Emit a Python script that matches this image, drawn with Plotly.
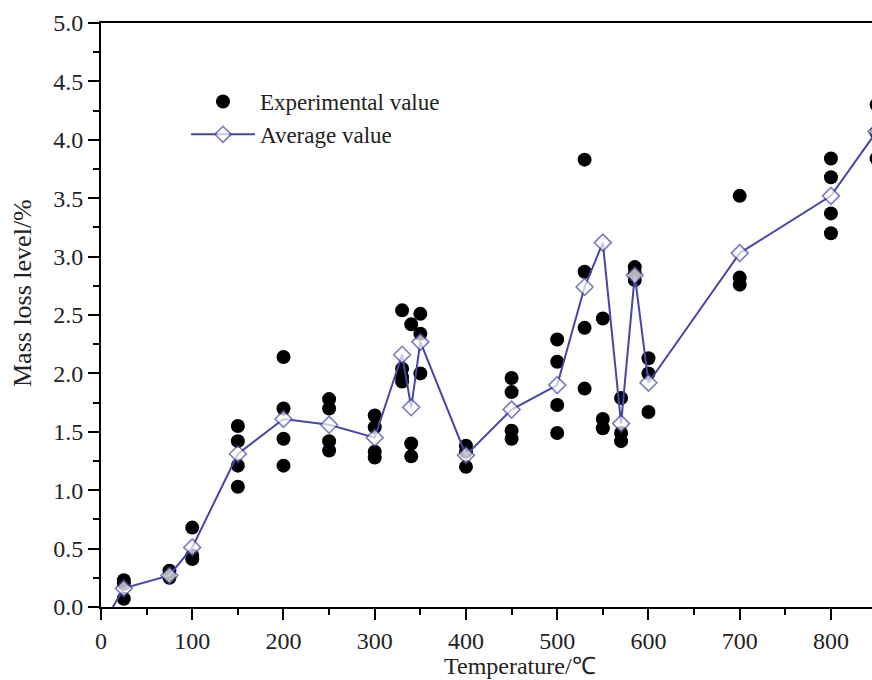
import plotly.graph_objects as go

# Experimental values (flattened: temperature, mass loss)
exp_temperature = [25, 25, 25,
                   75, 75,
                   100, 100, 100,
                   150, 150, 150, 150,
                   200, 200, 200, 200,
                   250, 250, 250, 250,
                   300, 300, 300, 300,
                   330, 330, 330, 330,
                   340, 340, 340,
                   350, 350, 350,
                   400, 400, 400,
                   450, 450, 450, 450,
                   500, 500, 500, 500,
                   530, 530, 530, 530,
                   550, 550, 550,
                   570, 570, 570,
                   585, 585, 585,
                   600, 600, 600,
                   700, 700, 700,
                   800, 800, 800, 800,
                   850, 850, 850]
exp_mass_loss = [0.23, 0.20, 0.07,
                 0.31, 0.25,
                 0.68, 0.44, 0.41,
                 1.55, 1.42, 1.21, 1.03,
                 2.14, 1.70, 1.44, 1.21,
                 1.78, 1.70, 1.42, 1.34,
                 1.64, 1.54, 1.33, 1.28,
                 2.54, 2.04, 1.97, 1.93,
                 2.42, 1.40, 1.29,
                 2.51, 2.34, 2.00,
                 1.38, 1.33, 1.20,
                 1.96, 1.84, 1.51, 1.44,
                 2.29, 2.10, 1.73, 1.49,
                 3.83, 2.87, 2.39, 1.87,
                 2.47, 1.61, 1.53,
                 1.79, 1.49, 1.42,
                 2.91, 2.86, 2.80,
                 2.13, 2.00, 1.67,
                 3.52, 2.82, 2.76,
                 3.84, 3.68, 3.37, 3.20,
                 4.30, 4.06, 3.84]

# Average values
avg_temperature = [13, 25, 75, 100, 150, 200, 250, 300, 330, 340, 350, 400,
                   450, 500, 530, 550, 570, 585, 600, 700, 800, 850]
avg_mass_loss = [0.0, 0.16, 0.27, 0.51, 1.31, 1.61, 1.56, 1.45, 2.16, 1.71,
                 2.27, 1.30, 1.69, 1.90, 2.74, 3.12, 1.57, 2.84, 1.92, 3.03,
                 3.52, 4.07]
avg_marker_size = [0] + [13] * (len(avg_temperature) - 1)

x_tick_values = [0, 100, 200, 300, 400, 500, 600, 700, 800]
y_tick_values = [0.0, 0.5, 1.0, 1.5, 2.0, 2.5, 3.0, 3.5, 4.0, 4.5, 5.0]

LINE_COLOR = "#4646a4"
FONT = "Liberation Serif, Times New Roman, serif"

fig = go.Figure()
fig.add_trace(go.Scatter(
    x=exp_temperature, y=exp_mass_loss, mode="markers",
    name="Experimental value",
    marker=dict(symbol="circle", size=14, color="black"),
))
fig.add_trace(go.Scatter(
    x=avg_temperature, y=avg_mass_loss, mode="lines+markers",
    name="Average value",
    line=dict(color=LINE_COLOR, width=2),
    marker=dict(symbol="diamond", size=avg_marker_size, color="white",
                line=dict(color=LINE_COLOR, width=1.6)),
))

axis_common = dict(
    showgrid=False, zeroline=False, showline=True, linecolor="black",
    linewidth=2, ticks="outside", ticklen=11, tickwidth=2, tickcolor="black",
    tickfont=dict(family=FONT, size=24, color="#222"),
)

fig.update_xaxes(
    range=[0, 845], tickvals=x_tick_values, mirror=True,
    minor=dict(ticks="outside", ticklen=6, tickwidth=2, tickcolor="black", dtick=50, tick0=0),
    **axis_common,
)
fig.update_yaxes(
    range=[0, 5.0], tickvals=y_tick_values, tickformat=".1f",
    minor=dict(ticks="outside", ticklen=6, tickwidth=2, tickcolor="black", dtick=0.25, tick0=0),
    **axis_common,
)

fig.add_annotation(text="Temperature/℃", xref="paper", yref="paper",
                   x=(520 - 101) / 771, y=-(681 - 607) / 584,
                   showarrow=False, xanchor="center", yanchor="bottom",
                   font=dict(family=FONT, size=24, color="#222"))
fig.add_annotation(text="Mass loss level/%", xref="paper", yref="paper",
                   x=-(101 - 22) / 771, y=(607 - 293) / 584, textangle=-90,
                   showarrow=False, xanchor="center", yanchor="middle",
                   font=dict(family=FONT, size=26, color="#222"))

fig.update_layout(
    width=872, height=680,
    margin=dict(l=101, r=0, t=23, b=73),
    plot_bgcolor="white", paper_bgcolor="white",
    showlegend=True,
    legend=dict(x=(186 - 101) / 771, y=(607 - 80) / 584, xanchor="left", yanchor="top",
                bgcolor="rgba(0,0,0,0)", font=dict(family=FONT, size=23, color="#222"),
                itemwidth=64, tracegroupgap=0),
)

fig.write_html("out.html")
